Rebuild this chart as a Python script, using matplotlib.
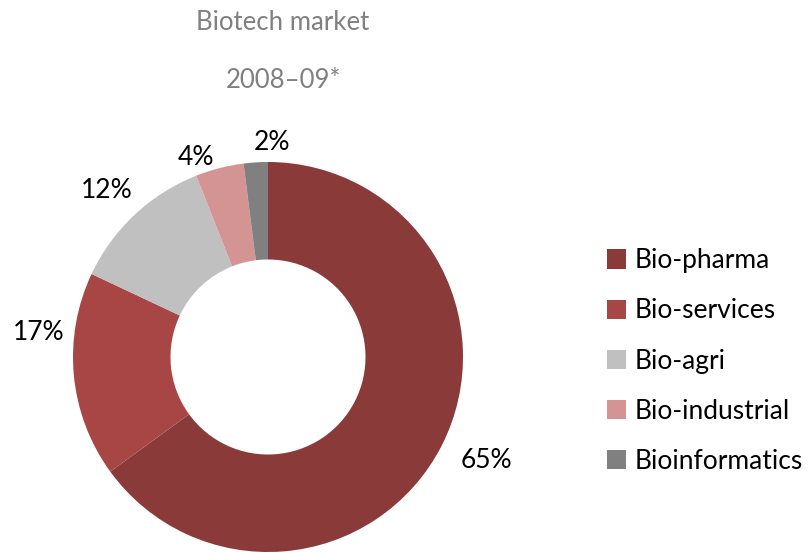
import numpy as np
import matplotlib.pyplot as plt

# Datos
categorias = ['Bio-pharma', 'Bio-services', 'Bio-agri', 'Bio-industrial', 'Bioinformatics']
valores = [65, 17, 12, 4, 2]
colores = ['#8b3a3a', '#a84646', '#c0c0c0', '#d49494', '#808080']

# Ajustes de posicion de las etiquetas (distancia al centro, giro en grados)
etiqueta_dist = [1.24, 1.18, 1.19, 1.09, 1.10]
etiqueta_giro = [1.6, -11.4, 0.8, 5.4, -4.8]

plt.rcParams['font.family'] = ['Lato', 'DejaVu Sans']

fig = plt.figure(figsize=(8.11, 5.53), dpi=100)
W, H = 811, 553
cx, cy, r = 268, 357, 195
ax = fig.add_axes([(cx - r) / W, (H - cy - r) / H, 2 * r / W, 2 * r / H])

wedges, textos = ax.pie(valores, colors=colores, startangle=90, counterclock=False,
                        radius=1, wedgeprops=dict(width=0.5, linewidth=0))
ax.set_xlim(-1, 1)
ax.set_ylim(-1, 1)
ax.set_aspect('equal')
ax.axis('off')

# Etiquetas de porcentaje
for w, v, d, g in zip(wedges, valores, etiqueta_dist, etiqueta_giro):
    ang = np.deg2rad((w.theta1 + w.theta2) / 2 + g)
    ax.text(d * np.cos(ang), d * np.sin(ang), f'{v}%', ha='center', va='center',
            fontsize=19, color='black')

# Título
fig.text(283 / W, 1 - 22 / H, 'Biotech market', ha='center', va='center', fontsize=18.5, color='#808080')
fig.text(283 / W, 1 - 80 / H, '2008–09*', ha='center', va='center', fontsize=18.5, color='#808080')

# Leyenda
fig.legend(wedges, categorias, loc='center left', bbox_to_anchor=(596 / W, 1 - 361 / H),
           frameon=False, fontsize=19, handlelength=0.75, handleheight=0.75,
           handletextpad=0.3, labelspacing=0.95, borderaxespad=0)

plt.savefig('out.png', dpi=100)
